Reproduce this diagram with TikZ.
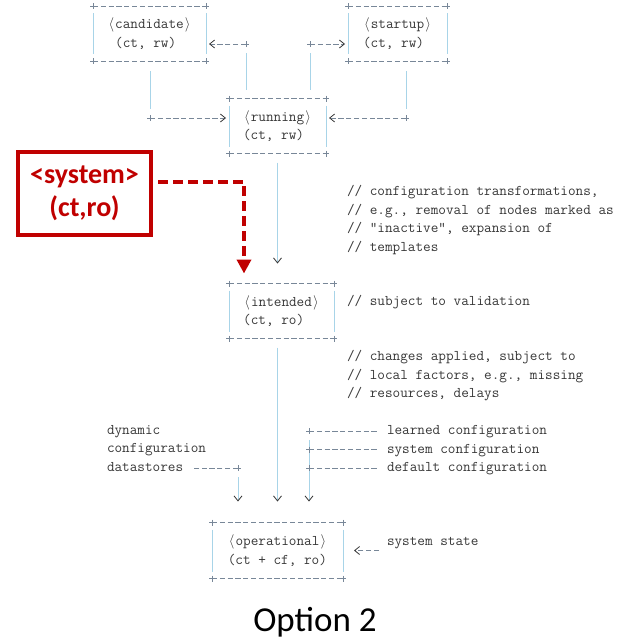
\documentclass[tikz,border=0pt]{standalone}
\usepackage{fontspec}
\newfontfamily\carlito{Carlito}
\usetikzlibrary{arrows.meta}
\definecolor{txtgray}{RGB}{55,55,55}
\definecolor{barblue}{RGB}{168,212,232}
\definecolor{dashgray}{RGB}{120,135,152}
\definecolor{sysred}{RGB}{192,0,0}
\newcommand{\langbr}{\makebox[0.525em]{$\langle$}}
\newcommand{\rangbr}{\makebox[0.525em]{$\rangle$}}

\begin{document}
\begin{tikzpicture}[x=1pt,y=-1pt,
	mono/.style={font=\fontsize{14.8}{18.5}\selectfont\ttfamily,text=txtgray,inner sep=0pt,outer sep=0pt},
	dstore/.style={mono,minimum height=55pt,align=left},
	note/.style={mono,align=left,anchor=base west},
	vbar/.style={draw=barblue,line width=0.9pt},
	hbar/.style={draw=dashgray,line width=0.8pt,dash pattern=on 5.2pt off 2.6pt},
	vtip/.style={-{Straight Barb[length=5pt,width=8pt,line width=0.8pt,color=txtgray,sep=7pt]}},
	ltip/.style={-{Straight Barb[length=5pt,width=8pt,line width=0.8pt,color=txtgray]}},
	plusmark/.style={draw=dashgray,line width=0.8pt}]
	\fill[white] (0,0) rectangle (625,640);
	\useasboundingbox (0,0) rectangle (625,640);

	% datastores
	\node[dstore,minimum width=113pt] (cand) at (149.5,33.5) {\langbr candidate\rangbr\\\hspace*{0.525em}(ct, rw)};
	\node[dstore,minimum width=99pt] (start) at (397.5,33.5) {\langbr startup\rangbr\\(ct, rw)};
	\node[dstore,minimum width=97pt] (run) at (277.5,126) {\langbr running\rangbr\\(ct, rw)};
	\node[dstore,minimum width=105pt] (intd) at (281.5,311) {\langbr intended\rangbr\\(ct, ro)};
	\node[dstore,minimum width=131pt,minimum height=56pt] (oper) at (277.5,550.5) {\langbr operational\rangbr\\(ct + cf, ro)};

	\foreach \n in {cand,start,run,intd,oper} {
		\draw[hbar] (\n.north west) -- (\n.north east) (\n.south west) -- (\n.south east);
		\draw[vbar,shorten <=7pt,shorten >=7pt] (\n.north west) -- (\n.south west);
		\draw[vbar,shorten <=7pt,shorten >=7pt] (\n.north east) -- (\n.south east);
		\foreach \a in {north west,north east,south west,south east}
			\draw[plusmark] (\n.\a) +(-3,0) -- +(3,0) +(0,-3) -- +(0,3);
	}

	% comments (base = last line)
	\node[note] (trans) at (347,251.2) {// configuration transformations,\\// e.g., removal of nodes marked as\\// "inactive", expansion of\\// templates};
	\node[note] (valid) at (347,305.2) {// subject to validation};
	\node[note] (applied) at (347,397.7) {// changes applied, subject to\\// local factors, e.g., missing\\// resources, delays};
	\node[note] (dyn) at (107,471.2) {dynamic\\configuration\\datastores};
	\node[note] (lrn) at (387,434.7) {learned configuration};
	\node[note] (sysc) at (387,453.2) {system configuration};
	\node[note] (dflt) at (387,471.7) {default configuration};
	\node[note] (state) at (387,545.2) {system state};

	% corners
	\coordinate (ca) at (246,44);
	\coordinate (cb) at (310,44);
	\coordinate (cc) at (150,118);
	\coordinate (cd) at (406,118);
	\coordinate (ce) at (238,468);
	\coordinate (cf) at (309,431);
	\coordinate (cg) at (309,449.5);
	\coordinate (ch) at (309,468);

	\draw[vbar,shorten <=9pt,shorten >=9pt] (run.north -| ca) -- (ca);
	\draw[hbar,ltip,shorten >=3pt] (ca) -- (cand.east |- ca);
	\draw[vbar,shorten <=9pt,shorten >=9pt] (run.north -| cb) -- (cb);
	\draw[hbar,ltip,shorten >=3pt] (cb) -- (start.west |- cb);
	\draw[vbar,shorten <=10pt,shorten >=9pt] (cand.south -| cc) -- (cc);
	\draw[hbar,ltip,shorten >=3pt] (cc) -- (run.west |- cc);
	\draw[vbar,shorten <=10pt,shorten >=9pt] (start.south -| cd) -- (cd);
	\draw[hbar,ltip,shorten >=3pt] (cd) -- (run.east |- cd);

	\draw[vbar,vtip,shorten <=9pt,shorten >=13pt] (run.south) -- (run.south |- intd.north);
	\draw[vbar,vtip,shorten <=9pt,shorten >=14pt] (intd.south -| run.south) -- (oper.north -| run.south);
	\draw[hbar] (ce) -- ++(-44,0);
	\draw[vbar,vtip,shorten <=9pt,shorten >=14pt] (ce) -- (oper.north -| ce);
	\draw[vbar,vtip,shorten <=9pt,shorten >=14pt] (cf) -- (oper.north -| cf);
	\draw[hbar,shorten >=8pt] (cf) -- (lrn.west |- cf);
	\draw[hbar,shorten >=8pt] (cg) -- (sysc.west |- cg);
	\draw[hbar,shorten >=8pt] (ch) -- (dflt.west |- ch);
	\draw[hbar,ltip,shorten <=8pt,shorten >=11pt] (state.west |- oper) -- (oper.east);

	\foreach \p in {ca,cb,cc,cd,ce,cf,cg,ch}
		\draw[plusmark] (\p) +(-3,0) -- +(3,0) +(0,-3) -- +(0,3);

	% system datastore
	\node[draw=sysred,line width=4pt,minimum width=133pt,minimum height=83pt,text=sysred,align=center,
		font={\fontsize{28}{33}\selectfont\carlito\bfseries}] (sys) at (84.5,193.5) {<system>\\(ct,ro)};
	\draw[sysred,line width=4pt,dash pattern=on 10pt off 5pt,-{Triangle[length=14pt,width=14pt]},shorten <=5pt]
		([yshift=11.5pt]sys.east) -| ([xshift=15pt,yshift=10pt]intd.north west);

	\node[font={\fontsize{35}{40}\selectfont\carlito}] (opt) at (315,622) {Option 2};
\end{tikzpicture}
\end{document}
